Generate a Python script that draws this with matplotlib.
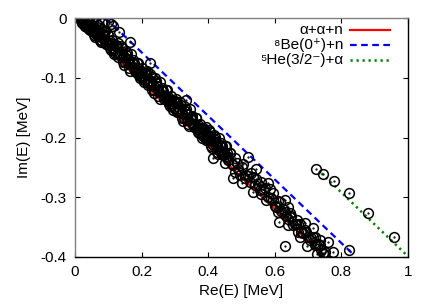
import numpy as np
import matplotlib.pyplot as plt
from matplotlib.ticker import FixedLocator, FuncFormatter

plt.rcParams['font.family'] = ['Liberation Sans', 'DejaVu Sans']

# threshold lines (Re, Im end points)
aan_re = [0.0, 0.75]
aan_im = [0.0, -0.4]
be8_re = [0.092, 0.84]
be8_im = [0.0, -0.398]
he5_re = [0.74, 1.0]
he5_im = [-0.26, -0.399]

# calculated eigenvalues
band1_re = [
    0.020, 0.028, 0.036, 0.044, 0.052, 0.060, 0.068, 0.076, 0.084, 0.092, 0.100,
    0.108, 0.116, 0.124, 0.132, 0.140, 0.148, 0.156, 0.164, 0.172, 0.180, 0.188,
    0.196, 0.204, 0.212, 0.220, 0.228, 0.236, 0.244, 0.252, 0.260, 0.268, 0.276,
    0.284, 0.292, 0.300, 0.308, 0.316, 0.324, 0.332, 0.340, 0.348, 0.356, 0.364,
    0.372, 0.380, 0.388, 0.396, 0.404, 0.412, 0.420, 0.428, 0.436, 0.444, 0.452]
band1_im = [
    -0.007, -0.003, -0.001, -0.015, -0.012, -0.032, -0.012, -0.030, -0.027, -0.043, -0.028,
    -0.053, -0.050, -0.046, -0.062, -0.058, -0.078, -0.059, -0.077, -0.073, -0.089, -0.075,
    -0.100, -0.096, -0.092, -0.109, -0.105, -0.125, -0.105, -0.124, -0.120, -0.136, -0.121,
    -0.147, -0.143, -0.139, -0.155, -0.152, -0.172, -0.152, -0.170, -0.166, -0.183, -0.168,
    -0.193, -0.189, -0.186, -0.202, -0.198, -0.218, -0.199, -0.217, -0.213, -0.229, -0.215]

band2_re = [
    0.024, 0.032, 0.040, 0.048, 0.056, 0.064, 0.072, 0.080, 0.088, 0.096, 0.104,
    0.112, 0.120, 0.128, 0.136, 0.144, 0.152, 0.160, 0.168, 0.176, 0.184, 0.192,
    0.200, 0.208, 0.216, 0.224, 0.232, 0.240, 0.248, 0.256, 0.264, 0.272, 0.280,
    0.288, 0.296, 0.304, 0.312, 0.320, 0.328, 0.336, 0.344, 0.352, 0.360, 0.368,
    0.376, 0.384, 0.392, 0.400, 0.408, 0.416, 0.424, 0.432, 0.440, 0.448, 0.456]
band2_im = [
    -0.002, -0.011, -0.003, -0.011, -0.028, -0.008, -0.028, -0.008, -0.029, -0.043, -0.039,
    -0.037, -0.058, -0.042, -0.058, -0.074, -0.055, -0.075, -0.060, -0.075, -0.090, -0.086,
    -0.084, -0.104, -0.089, -0.105, -0.121, -0.101, -0.121, -0.107, -0.122, -0.136, -0.132,
    -0.131, -0.151, -0.135, -0.151, -0.168, -0.148, -0.168, -0.153, -0.169, -0.183, -0.179,
    -0.177, -0.198, -0.182, -0.198, -0.214, -0.195, -0.215, -0.200, -0.215, -0.229, -0.226]

band3_re = [
    0.022, 0.030, 0.038, 0.046, 0.054, 0.062, 0.070, 0.078, 0.086, 0.094, 0.102,
    0.110, 0.118, 0.126, 0.134, 0.142, 0.150, 0.158, 0.166, 0.174, 0.182, 0.190,
    0.198, 0.206, 0.214, 0.222, 0.230, 0.238, 0.246, 0.254, 0.262, 0.270, 0.278,
    0.286, 0.294, 0.302, 0.310, 0.318, 0.326, 0.334, 0.342, 0.350, 0.358, 0.366,
    0.374, 0.382, 0.390, 0.398, 0.406, 0.414, 0.422, 0.430, 0.438, 0.446, 0.454]
band3_im = [
    -0.002, -0.014, -0.001, -0.014, -0.005, -0.027, -0.021, -0.041, -0.024, -0.038, -0.046,
    -0.044, -0.061, -0.047, -0.061, -0.051, -0.074, -0.068, -0.088, -0.070, -0.085, -0.093,
    -0.091, -0.107, -0.093, -0.108, -0.098, -0.120, -0.114, -0.135, -0.117, -0.131, -0.139,
    -0.138, -0.154, -0.140, -0.154, -0.145, -0.167, -0.161, -0.181, -0.164, -0.178, -0.186,
    -0.184, -0.200, -0.187, -0.201, -0.191, -0.213, -0.208, -0.228, -0.210, -0.224, -0.233]

band4_re = [
    0.026, 0.034, 0.042, 0.050, 0.058, 0.066, 0.074, 0.082, 0.090, 0.098, 0.106,
    0.114, 0.122, 0.130, 0.138, 0.146, 0.154, 0.162, 0.170, 0.178, 0.186, 0.194,
    0.202, 0.210, 0.218, 0.226, 0.234, 0.242, 0.250, 0.258, 0.266, 0.274, 0.282,
    0.290, 0.298, 0.306, 0.314, 0.322, 0.330, 0.338, 0.346, 0.354, 0.362, 0.370,
    0.378, 0.386, 0.394, 0.402, 0.410, 0.418, 0.426, 0.434, 0.442, 0.450, 0.458]
band4_im = [
    -0.006, -0.001, -0.018, -0.001, -0.019, -0.015, -0.037, -0.027, -0.038, -0.028, -0.050,
    -0.052, -0.047, -0.065, -0.047, -0.065, -0.062, -0.084, -0.074, -0.084, -0.075, -0.097,
    -0.099, -0.093, -0.112, -0.094, -0.112, -0.108, -0.131, -0.121, -0.131, -0.121, -0.144,
    -0.146, -0.140, -0.158, -0.140, -0.159, -0.155, -0.177, -0.167, -0.178, -0.168, -0.190,
    -0.192, -0.187, -0.205, -0.187, -0.205, -0.202, -0.224, -0.214, -0.224, -0.215, -0.237]

origin_re = [0.015, 0.018, 0.022, 0.026, 0.030, 0.034, 0.038, 0.042, 0.046, 0.050,
             0.054, 0.058, 0.062, 0.066, 0.070, 0.074, 0.078, 0.082, 0.086, 0.090]
origin_im = [-0.001, -0.004, -0.009, -0.006, -0.013, -0.008, -0.017, -0.006, -0.020, -0.022,
             -0.018, -0.024, -0.020, -0.028, -0.022, -0.036, -0.019, -0.038, -0.035, -0.022]

tail1_re = [0.46, 0.47, 0.48, 0.49, 0.50, 0.51, 0.52, 0.53, 0.54, 0.55, 0.56, 0.57,
            0.58, 0.59, 0.60, 0.61, 0.62, 0.63, 0.64, 0.65, 0.66, 0.67, 0.68, 0.69,
            0.70, 0.71, 0.72, 0.73, 0.74, 0.75]
tail1_im = [-0.232, -0.245, -0.234, -0.252, -0.249, -0.268, -0.264, -0.259, -0.280, -0.278,
            -0.295, -0.284, -0.299, -0.301, -0.314, -0.307, -0.323, -0.324, -0.337, -0.331,
            -0.344, -0.345, -0.358, -0.354, -0.367, -0.368, -0.380, -0.379, -0.388, -0.392]

tail2_re = [0.465, 0.475, 0.485, 0.495, 0.505, 0.515, 0.525, 0.535, 0.545, 0.555,
            0.565, 0.575, 0.585, 0.595, 0.605, 0.615, 0.625, 0.635, 0.645, 0.655,
            0.665, 0.675, 0.685, 0.695, 0.705, 0.715, 0.725, 0.735, 0.745]
tail2_im = [-0.226, -0.246, -0.243, -0.262, -0.244, -0.263, -0.274, -0.266, -0.269, -0.288,
            -0.286, -0.305, -0.286, -0.305, -0.317, -0.308, -0.319, -0.331, -0.326, -0.347,
            -0.345, -0.344, -0.359, -0.358, -0.372, -0.367, -0.378, -0.380, -0.393]

# isolated eigenvalues (near the 8Be and 5He lines and scattered ones)
iso_re = [0.099, 0.108, 0.114, 0.132, 0.165, 0.225, 0.333,
          0.520, 0.544, 0.724, 0.745, 0.778, 0.823, 0.880, 0.958, 0.823, 0.631, 0.697,
          0.613, 0.727, 0.748, 0.775, 0.760, 0.736, 0.720, 0.676, 0.670, 0.715, 0.690,
          0.666, 0.640, 0.645, 0.630, 0.640, 0.610, 0.595, 0.580, 0.560, 0.535, 0.500,
          0.475, 0.480, 0.450, 0.415, 0.465, 0.435, 0.405, 0.385, 0.426]
iso_im = [-0.0067, -0.010, -0.013, -0.023, -0.040, -0.075, -0.137,
          -0.233, -0.253, -0.253, -0.261, -0.273, -0.293, -0.326, -0.366, -0.388, -0.382, -0.382,
          -0.341, -0.395, -0.395, -0.392, -0.375, -0.372, -0.366, -0.366, -0.358, -0.351, -0.343,
          -0.338, -0.346, -0.333, -0.305, -0.316, -0.325, -0.293, -0.276, -0.274, -0.291, -0.276,
          -0.268, -0.257, -0.243, -0.235, -0.226, -0.215, -0.204, -0.184, -0.210]

re_pts = band1_re + band2_re + band3_re + band4_re + origin_re + tail1_re + tail2_re + iso_re
im_pts = band1_im + band2_im + band3_im + band4_im + origin_im + tail1_im + tail2_im + iso_im

fig = plt.figure(figsize=(4.36, 3.05), dpi=100)
ax = fig.add_axes([75 / 436, 1 - 257 / 305, 333 / 436, 239 / 305])

ax.plot(aan_re, aan_im, color='#ff0000', lw=1.6, solid_capstyle='butt')
ax.plot(be8_re, be8_im, color='#0000ff', lw=1.6, dashes=(3, 2))
ax.plot(he5_re, he5_im, color='#008000', lw=1.8, dashes=(0.9, 1.5))
ax.plot(re_pts, im_pts, 'o', mfc='none', mec='black', ms=7, mew=1.1)
ax.plot(re_pts, im_pts, '.', color='black', ms=1.2)

ax.set_xlim(0, 1)
ax.set_ylim(-0.4, 0)
ax.xaxis.set_major_locator(FixedLocator([0, 0.2, 0.4, 0.6, 0.8, 1.0]))
ax.yaxis.set_major_locator(FixedLocator([-0.4, -0.3, -0.2, -0.1, 0]))
fmt = FuncFormatter(lambda v, p: '%g' % round(v, 2))
ax.xaxis.set_major_formatter(fmt)
ax.yaxis.set_major_formatter(fmt)
ax.tick_params(direction='in', length=3.5, width=0.8, top=True, right=True,
               labelsize=11, pad=6, colors='black')
for side in ['bottom', 'right']:
    ax.spines[side].set_color('black')
for side in ['top', 'left']:
    ax.spines[side].set_color('#808080')
for s in ax.spines.values():
    s.set_linewidth(1.0)

ax.set_xlabel('Re(E) [MeV]', fontsize=11, labelpad=3)
ax.set_ylabel('Im(E) [MeV]', fontsize=11, labelpad=7)

# legend drawn by hand, gnuplot style (text right aligned, sample on the right)
labels = ['\u03b1+\u03b1+n', '\u2078Be(0\u207a)+n', '\u2075He(3/2\u207b)+\u03b1']
styles = [dict(color='#ff0000', lw=1.6),
          dict(color='#0000ff', lw=1.6, dashes=(3, 2)),
          dict(color='#008000', lw=1.8, dashes=(0.9, 1.5))]
rows = [30, 45, 60]
for lab, st, ry in zip(labels, styles, rows):
    yf = 1 - ry / 305
    fig.text(343 / 436, yf, lab, ha='right', va='center', fontsize=11)
    fig.add_artist(plt.Line2D([350 / 436, 390 / 436], [yf, yf], **st))

fig.savefig('out.png', dpi=100)
